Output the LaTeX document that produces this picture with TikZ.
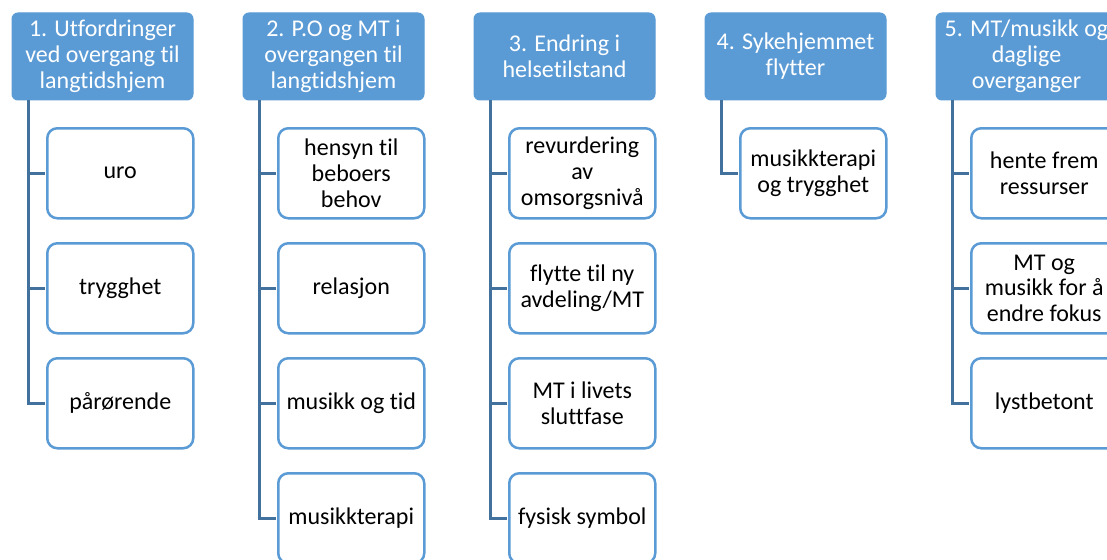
\documentclass[tikz,border=0pt]{standalone}
\usepackage{fontspec}
\setmainfont{Carlito}[Ligatures={NoCommon}]
\definecolor{accent}{HTML}{5B9BD5}
\definecolor{linkc}{HTML}{41719C}
\begin{document}
\begin{tikzpicture}[x=1pt,y=-1pt,
  hdr/.style={draw=accent,fill=accent,line width=1pt,rounded corners=6pt,
    minimum width=181pt,minimum height=87pt,anchor=north west,inner sep=2pt,
    text=white,align=center,font=\fontsize{24}{25.8}\selectfont},
  kid/.style={draw=accent,fill=white,line width=2.5pt,rounded corners=10pt,
    minimum width=146pt,minimum height=90pt,anchor=north west,inner sep=2pt,
    text=black,align=center,font=\fontsize{24}{25.8}\selectfont},
  link/.style={draw=linkc,line width=3pt}]
\useasboundingbox (0,0) rectangle (1107,559);
% column 1
\node[hdr] (h1) at (11.5,12.5) {1. Utfordringer\\ved overgang til\\langtidshjem};
\node[kid] (c11) at (46,127) {uro};
\node[kid] (c12) at (46,242) {trygghet};
\node[kid] (c13) at (46,357) {pårørende};
% column 2
\node[hdr] (h2) at (242.5,12.5) {2. P.O og MT i\\overgangen til\\langtidshjem};
\node[kid] (c21) at (277,127) {hensyn til\\beboers\\behov};
\node[kid] (c22) at (277,242) {relasjon};
\node[kid] (c23) at (277,357) {musikk og tid};
\node[kid] (c24) at (277,472) {musikkterapi};
% column 3
\node[hdr] (h3) at (473.5,12.5) {3. Endring i\\helsetilstand};
\node[kid] (c31) at (508,127) {revurdering\\av\\omsorgsnivå};
\node[kid] (c32) at (508,242) {flytte til ny\\avdeling/MT};
\node[kid] (c33) at (508,357) {MT i livets\\sluttfase};
\node[kid] (c34) at (508,472) {fysisk symbol};
% column 4
\node[hdr] (h4) at (704.5,12.5) {4. Sykehjemmet\\flytter};
\node[kid] (c41) at (739,127) {musikkterapi\\og trygghet};
% column 5
\node[hdr] (h5) at (935.5,12.5) {5. MT/musikk og\\daglige\\overganger};
\node[kid] (c51) at (970,127) {hente frem\\ressurser};
\node[kid] (c52) at (970,242) {MT og\\musikk for å\\endre fokus};
\node[kid] (c53) at (970,357) {lystbetont};
% connectors
\foreach \h/\kids in {h1/{c11,c12,c13},h2/{c21,c22,c23,c24},h3/{c31,c32,c33,c34},h4/{c41},h5/{c51,c52,c53}}{
  \foreach \k in \kids {
    \draw[link] ([xshift=16.5pt]\h.south west) |- ([xshift=-1pt]\k.west);
  }
}
\end{tikzpicture}
\end{document}
